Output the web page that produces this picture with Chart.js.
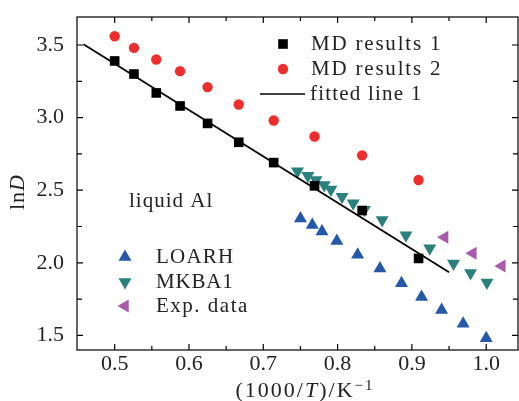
<!DOCTYPE html>
<html>
<head>
<meta charset="utf-8">
<script src="https://cdn.jsdelivr.net/npm/chart.js@4"></script>
<style>
html, body { margin: 0; padding: 0; background: #fff; }
</style>
</head>
<body>
<canvas id="myChart" width="519" height="401"></canvas>
<script>
// MD results (1000/T for T = 2000 ... 1100 K)
const mdX = [0.500, 0.526, 0.556, 0.588, 0.625, 0.667, 0.714, 0.769, 0.833, 0.909];
const md1Y = [3.39, 3.30, 3.17, 3.08, 2.96, 2.83, 2.69, 2.53, 2.36, 2.03];
const md2Y = [3.56, 3.48, 3.40, 3.32, 3.21, 3.09, 2.98, 2.87, 2.74, 2.57];

// fitted line 1 end points
const fitX = [0.458, 0.950];
const fitY = [3.505, 1.935];

const loarhX = [0.750, 0.766, 0.779, 0.799, 0.827, 0.857, 0.886, 0.913, 0.940, 0.969, 1.000];
const loarhY = [2.305, 2.26, 2.215, 2.15, 2.055, 1.96, 1.86, 1.765, 1.675, 1.58, 1.48];

const mkbaX = [0.746, 0.760, 0.771, 0.782, 0.791, 0.806, 0.821, 0.836, 0.860, 0.892, 0.924, 0.956, 0.979, 1.001];
const mkbaY = [2.63, 2.60, 2.57, 2.535, 2.505, 2.455, 2.41, 2.365, 2.295, 2.19, 2.10, 1.995, 1.93, 1.865];

const expX = [0.944, 0.982, 1.021];
const expY = [2.176, 2.065, 1.978];

const xTicks = [0.5, 0.6, 0.7, 0.8, 0.9, 1.0];
const xMinor = [0.55, 0.65, 0.75, 0.85, 0.95];
const yTicks = [1.5, 2.0, 2.5, 3.0, 3.5];
const yMinor = [1.75, 2.25, 2.75, 3.25];

const SERIF = 'Liberation Serif';
const TXT = '#222';

function pts(xs, ys) {
  return xs.map((x, i) => ({ x: x, y: ys[i] }));
}

const frame = {
  id: 'frame',
  afterDraw(chart) {
    const ctx = chart.ctx;
    const a = chart.chartArea;
    const xs = chart.scales.x, ys = chart.scales.y;
    ctx.save();
    ctx.strokeStyle = '#000';
    ctx.lineWidth = 1.2;
    ctx.strokeRect(a.left, a.top, a.right - a.left, a.bottom - a.top);
    ctx.beginPath();
    const tick = (vals, len) => {
      vals.forEach(v => {
        const px = xs.getPixelForValue(v);
        ctx.moveTo(px, a.bottom); ctx.lineTo(px, a.bottom - len);
        ctx.moveTo(px, a.top); ctx.lineTo(px, a.top + len);
      });
    };
    const tickY = (vals, len) => {
      vals.forEach(v => {
        const py = ys.getPixelForValue(v);
        ctx.moveTo(a.left, py); ctx.lineTo(a.left + len, py);
        ctx.moveTo(a.right, py); ctx.lineTo(a.right - len, py);
      });
    };
    tick(xTicks, 6); tick(xMinor, 4);
    tickY(yTicks, 6); tickY(yMinor, 5);
    ctx.stroke();

    // legends
    const ds = chart.data.datasets;
    const mark = (d, x, y) => {
      ctx.fillStyle = d.backgroundColor;
      Chart.helpers.drawPoint(ctx, {
        pointStyle: d.pointStyle, radius: d.pointRadius,
        rotation: d.pointRotation || 0, borderWidth: 0
      }, x, y);
    };

    mark(ds[0], 283, 44);
    mark(ds[1], 283, 69);
    ctx.beginPath();
    ctx.strokeStyle = '#000';
    ctx.lineWidth = 1.5;
    ctx.moveTo(260, 94); ctx.lineTo(305, 94);
    ctx.stroke();
    mark(ds[3], 125, 257);
    mark(ds[4], 125, 282);
    mark(ds[5], 125, 306);

    ctx.font = '21px ' + SERIF;
    ctx.fillStyle = TXT;
    ctx.textBaseline = 'middle';
    ctx.textAlign = 'left';
    const labels = [
      ['MD results 1', 311, 44, 1.8], ['MD results 2', 311, 69, 1.8], ['fitted line 1', 310, 94, 1.2],
      ['LOARH', 156, 257, 1.2], ['MKBA1', 156, 282, 0.8], ['Exp. data', 156, 306, 1.5],
      ['liquid Al', 129, 201, 1]
    ];
    labels.forEach(l => {
      ctx.letterSpacing = l[3] + 'px';
      ctx.fillText(l[0], l[1], l[2]);
    });

    // axis titles
    ctx.letterSpacing = '2px';
    ctx.textBaseline = 'alphabetic';
    const parts = [['(1000/', false], ['T', true], [')/K', false]];
    let w = 0;
    parts.forEach(p => { ctx.font = (p[1] ? 'italic ' : '') + '22px ' + SERIF; w += ctx.measureText(p[0]).width; });
    ctx.font = '15px ' + SERIF;
    const supW = ctx.measureText('\u22121').width;
    let x0 = 305 - (w + supW) / 2;
    parts.forEach(p => {
      ctx.font = (p[1] ? 'italic ' : '') + '22px ' + SERIF;
      ctx.fillText(p[0], x0, 397);
      x0 += ctx.measureText(p[0]).width;
    });
    ctx.font = '15px ' + SERIF;
    ctx.fillText('\u22121', x0, 390);

    ctx.letterSpacing = '1px';
    ctx.textBaseline = 'middle';
    ctx.translate(18, 192);
    ctx.rotate(-Math.PI / 2);
    ctx.font = '22px ' + SERIF;
    const lnW = ctx.measureText('ln').width;
    ctx.font = 'italic 22px ' + SERIF;
    const dW = ctx.measureText('D').width;
    ctx.font = '22px ' + SERIF;
    ctx.fillText('ln', -(lnW + dW) / 2, 0);
    ctx.font = 'italic 22px ' + SERIF;
    ctx.fillText('D', -(lnW + dW) / 2 + lnW, 0);
    ctx.restore();
  }
};

const ctx = document.getElementById('myChart').getContext('2d');
const myChart = new Chart(ctx, {
  type: 'scatter',
  data: {
    datasets: [
      { label: 'MD results 1', data: pts(mdX, md1Y), pointStyle: 'rect', pointRadius: 6.8,
        backgroundColor: '#000', borderWidth: 0 },
      { label: 'MD results 2', data: pts(mdX, md2Y), pointStyle: 'circle', pointRadius: 5.2,
        backgroundColor: '#ee2d2d', borderWidth: 0 },
      { label: 'fitted line 1', data: pts(fitX, fitY), type: 'line', showLine: true,
        borderColor: '#000', borderWidth: 1.8, pointRadius: 0, fill: false },
      { label: 'LOARH', data: pts(loarhX, loarhY), pointStyle: 'triangle', pointRadius: 7.5,
        backgroundColor: '#2658a8', borderWidth: 0 },
      { label: 'MKBA1', data: pts(mkbaX, mkbaY), pointStyle: 'triangle', pointRadius: 7.5, pointRotation: 180,
        backgroundColor: '#2a807b', borderWidth: 0 },
      { label: 'Exp. data', data: pts(expX, expY), pointStyle: 'triangle', pointRadius: 7.5, pointRotation: -90,
        backgroundColor: '#aa5aac', borderWidth: 0 }
    ]
  },
  options: {
    responsive: false,
    animation: false,
    layout: { autoPadding: false, padding: { top: 17, right: 1, left: 0, bottom: 0 } },
    plugins: { legend: { display: false }, tooltip: { enabled: false } },
    elements: { point: { hoverRadius: 0 } },
    scales: {
      x: {
        type: 'linear', min: 0.4493, max: 1.0428,
        grid: { display: false }, border: { display: false },
        afterBuildTicks: s => { s.ticks = xTicks.map(v => ({ value: v })); },
        afterFit: s => { s.height = 51; s.paddingLeft = 0; s.paddingRight = 0; },
        ticks: { padding: -7, color: TXT, font: { family: SERIF, size: 22 },
          callback: v => v.toFixed(1) }
      },
      y: {
        type: 'linear', min: 1.3995, max: 3.6928,
        grid: { display: false }, border: { display: false },
        afterBuildTicks: s => { s.ticks = yTicks.map(v => ({ value: v })); },
        afterFit: s => { s.width = 77; s.paddingTop = 0; s.paddingBottom = 0; },
        ticks: { padding: 5, color: TXT, font: { family: SERIF, size: 22 },
          callback: v => v.toFixed(1) }
      }
    }
  },
  plugins: [frame]
});
</script>
</body>
</html>
